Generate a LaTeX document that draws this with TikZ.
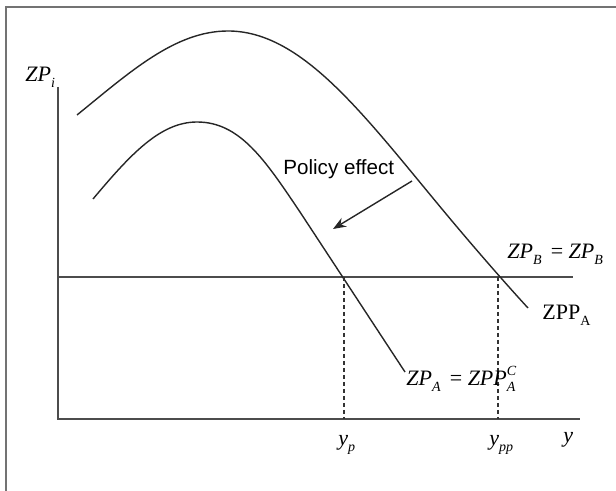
\documentclass[tikz,border=0pt]{standalone}
\usepackage{fontspec}
\setmainfont{Liberation Serif}
\newfontfamily\policyfont{Liberation Sans}
\usetikzlibrary{arrows.meta}
\begin{document}
\begin{tikzpicture}[x=0.5pt,y=-0.5pt,
  framestyle/.style={draw=black!55,line width=0.6pt},
  axisstyle/.style={draw=black!70,line width=0.9pt},
  curvestyle/.style={draw=black!85,line width=0.7pt},
  dropstyle/.style={draw=black!80,line width=0.6pt,dash pattern=on 2pt off 1.5pt},
  lbl/.style={font=\fontsize{11}{13}\selectfont,inner sep=0pt,anchor=base west},
  arrowstyle/.style={draw=black!85,line width=0.7pt,-{Stealth[length=6.5pt,width=5pt]}}]
\useasboundingbox (0,0) rectangle (616,491);
% frame
\draw[framestyle] (6,495) -- (6,7) -- (620,7);
% axes
\coordinate (O) at (58,419);
\coordinate (ytop) at (58,87);
\coordinate (xend) at (580,419);
\draw[axisstyle] (ytop) -- (O) -- (xend);
% horizontal ZP_B line
\coordinate (hl) at (58,277);
\coordinate (hr) at (573,277);
\draw[axisstyle] (hl) -- (hr);
% upper curve ZPP_A
\draw[curvestyle] (77,115) .. controls (130,72) and (175,31) .. (228,31)
  .. controls (300,31) and (360,110) .. (437,203)
  .. controls (470,243) and (505,283) .. (528,308);
% lower curve
\draw[curvestyle] (93,199) .. controls (130,155) and (160,122) .. (197,122)
  .. controls (240,122) and (265,160) .. (300,212) -- (405,372);
% intersections and drop lines
\coordinate (pA) at (344,277);
\coordinate (pB) at (498,277);
\coordinate (fA) at (344,419);
\coordinate (fB) at (498,419);
\draw[dropstyle] (pA) -- (fA);
\draw[dropstyle] (pB) -- (fB);
% labels
\node[lbl] (zpi) at (25,82) {\textit{ZP}\raisebox{-3pt}{\fontsize{7}{8}\selectfont\textit{i}}};
\node[lbl] (zpb) at (507,259) {\textit{ZP}\raisebox{-3pt}{\fontsize{7}{8}\selectfont\textit{B}}\, = \textit{ZP}\raisebox{-3pt}{\fontsize{7}{8}\selectfont\textit{B}}};
\node[lbl] (zppa) at (542,320) {ZPP\raisebox{-3pt}{\fontsize{7}{8}\selectfont A}};
\node[lbl] (zpa) at (406,386) {\textit{ZP}\raisebox{-3pt}{\fontsize{7}{8}\selectfont\textit{A}}\, = \textit{ZPP}\rlap{\raisebox{5pt}{\fontsize{7}{8}\selectfont\textit{C}}}\raisebox{-3pt}{\fontsize{7}{8}\selectfont\textit{A}}};
\node[lbl] (yp) at (338,446) {\textit{y}\raisebox{-3pt}{\fontsize{7}{8}\selectfont\textit{p}}};
\node[lbl] (ypp) at (489,446) {\textit{y}\raisebox{-3pt}{\fontsize{7}{8}\selectfont\textit{pp}}};
\node[lbl] (ylab) at (563,443) {\textit{y}};
\node[lbl,font=\policyfont\fontsize{10.3}{12}\selectfont] (pe) at (283,175) {Policy effect};
% arrow
\coordinate (as) at (412,181);
\coordinate (ae) at (333,229);
\draw[arrowstyle] (as) -- (ae);
\end{tikzpicture}
\end{document}
